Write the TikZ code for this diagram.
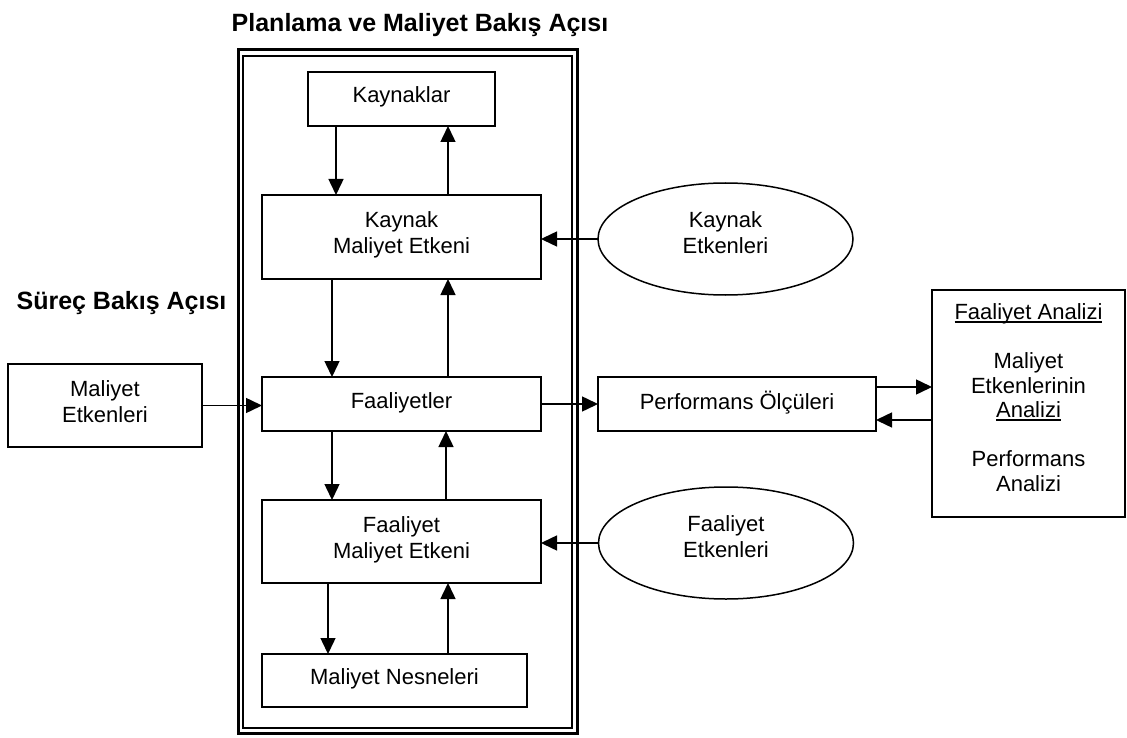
\documentclass[tikz,border=0pt]{standalone}
\usepackage{fontspec}
\setmainfont{Liberation Sans}
\usetikzlibrary{arrows.meta,shapes.geometric}
% underline with a fixed offset below the baseline
\newcommand\ulword[1]{\setbox0=\hbox{#1}\rlap{\rule[-3pt]{\wd0}{1.5pt}}\box0}

\begin{document}
\begin{tikzpicture}[x=1pt,y=-1pt,
  every node/.style={inner sep=0pt, outer sep=0pt},
  lbl/.style={font=\fontsize{22}{26}\selectfont, align=center,
    execute at begin node={\rule[-8pt]{0pt}{24pt}},
    execute at end node={\rule[-8pt]{0pt}{24pt}}},
  box/.style={lbl, draw, line width=1.5pt, rectangle},
  oval/.style={lbl, draw, line width=1.5pt, ellipse,
    minimum width=255pt, minimum height=112pt,
    execute at end node={\rule[-12pt]{0pt}{28pt}}},
  heading/.style={font=\fontsize{25}{30}\selectfont\bfseries, anchor=base},
  arr/.style={line width=1.5pt, -{Triangle[length=16pt,width=15pt]}}
]
\useasboundingbox (0,0) rectangle (1127,738);

% headings
\node[heading] (t1) at (420,31.7) {Planlama ve Maliyet Bakış Açısı};
\node[heading] (t2) at (121.5,309) {Süreç Bakış Açısı};

% double frame around the planning column
\draw[line width=2.8pt] (238.3,49.7) rectangle (577.8,733.7);
\draw[line width=1.6pt] (243,55.8) rectangle (571.7,727.8);

% boxes in the planning column
\node[box, minimum width=187pt, minimum height=54pt] (kay) at (401.5,99) {Kaynaklar};
\node[box, minimum width=279pt, minimum height=84pt] (kme) at (401.5,237) {Kaynak\\Maliyet Etkeni};
\node[box, minimum width=279pt, minimum height=54pt] (fa) at (401.5,404) {Faaliyetler};
\node[box, minimum width=279pt, minimum height=83pt] (fme) at (401.5,541.5) {Faaliyet\\Maliyet Etkeni};
\node[box, minimum width=265pt, minimum height=53pt] (mn) at (394.5,680.5) {Maliyet Nesneleri};

% boxes outside the column
\node[box, minimum width=194pt, minimum height=83pt] (me) at (105,405.5) {Maliyet\\Etkenleri};
\node[box, minimum width=278pt, minimum height=54pt] (po) at (737,404) {Performans Ölçüleri};
\node[box, minimum width=193pt, minimum height=227pt,
  font=\fontsize{22}{24.5}\selectfont,
  execute at end node={\rule[-12pt]{0pt}{28pt}}] (fan) at (1028.5,403.5)
  {\ulword{Faaliyet Analizi}\\[24.5pt]Maliyet\\Etkenlerinin\\\ulword{Analizi}\\[24.5pt]Performans\\Analizi};

% driver ellipses
\node[oval] (ke) at (725.5,239) {Kaynak\\Etkenleri};
\node[oval] (fe) at (726,543) {Faaliyet\\Etkenleri};

% vertical flows
\draw[arr] (336,0 |- kay.south) -- (336,0 |- kme.north);
\draw[arr] (448,0 |- kme.north) -- (448,0 |- kay.south);
\draw[arr] (332,0 |- kme.south) -- (332,0 |- fa.north);
\draw[arr] (448,0 |- fa.north) -- (448,0 |- kme.south);
\draw[arr] (332,0 |- fa.south) -- (332,0 |- fme.north);
\draw[arr] (446,0 |- fme.north) -- (446,0 |- fa.south);
\draw[arr] (328,0 |- fme.south) -- (328,0 |- mn.north);
\draw[arr] (448,0 |- mn.north) -- (448,0 |- fme.south);

% horizontal flows
\draw[arr] (me.east) -- (me.east -| fa.west);
\draw[arr] (fa.east) -- (fa.east -| po.west);
\draw[arr] (ke.west) -- (ke.west -| kme.east);
\draw[arr] (fe.west) -- (fe.west -| fme.east);
\draw[arr] (po.east |- 0,387) -- (fan.west |- 0,387);
\draw[arr] (fan.west |- 0,420) -- (po.east |- 0,420);
\end{tikzpicture}
\end{document}
